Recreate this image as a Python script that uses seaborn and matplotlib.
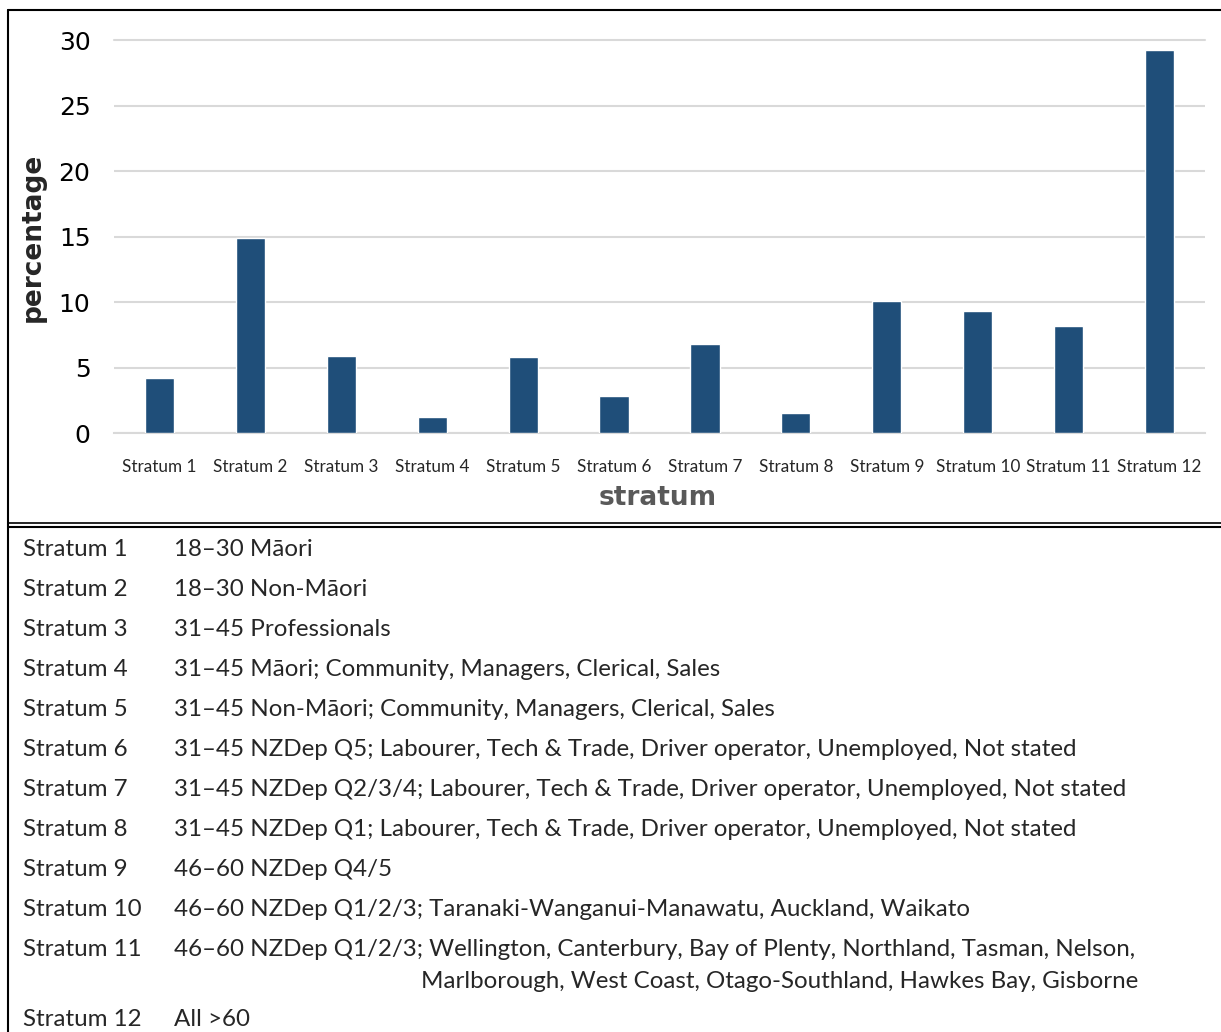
import matplotlib
matplotlib.use("Agg")
import matplotlib.pyplot as plt
import pandas as pd
import seaborn as sns
from matplotlib.lines import Line2D

strata = [f"Stratum {i}" for i in range(1, 13)]
percentage = [4.2, 14.9, 5.9, 1.2, 5.8, 2.8, 6.8, 1.5, 10.1, 9.3, 8.2, 29.2]
descriptions = [
    "18–30 Māori",
    "18–30 Non-Māori",
    "31–45 Professionals",
    "31–45 Māori; Community, Managers, Clerical, Sales",
    "31–45 Non-Māori; Community, Managers, Clerical, Sales",
    "31–45 NZDep Q5; Labourer, Tech & Trade, Driver operator, Unemployed, Not stated",
    "31–45 NZDep Q2/3/4; Labourer, Tech & Trade, Driver operator, Unemployed, Not stated",
    "31–45 NZDep Q1; Labourer, Tech & Trade, Driver operator, Unemployed, Not stated",
    "46–60 NZDep Q4/5",
    "46–60 NZDep Q1/2/3; Taranaki-Wanganui-Manawatu, Auckland, Waikato",
    "46–60 NZDep Q1/2/3; Wellington, Canterbury, Bay of Plenty, Northland, Tasman, Nelson,",
    "All >60",
]
stratum11_cont = "Marlborough, West Coast, Otago-Southland, Hawkes Bay, Gisborne"

W, H = 1221, 1032
sns.set_theme(style="white")
plt.rcParams["font.family"] = ["DejaVu Sans"]
body_font = ["Lato", "Open Sans", "DejaVu Sans"]


def fx(x):
    return x / W


def fy(y):
    return 1 - y / H


fig = plt.figure(figsize=(W / 100, H / 100), dpi=100)
ax = fig.add_axes([fx(114), fy(433), (1205 - 114) / W, (433 - 40) / H])

df = pd.DataFrame({"stratum": strata, "percentage": percentage})
sns.barplot(data=df, x="stratum", y="percentage", color="#1F4E79",
            saturation=1, width=0.32, ax=ax, zorder=3)

ax.set_ylim(0, 30)
ax.set_xlim(-0.5, 11.5)
ax.set_yticks(range(0, 31, 5))
ax.grid(axis="y", color="#D9D9D9", linewidth=1.5, zorder=0)
ax.grid(axis="x", visible=False)
for s in ["top", "right", "left"]:
    ax.spines[s].set_visible(False)
ax.spines["bottom"].set_color("#D9D9D9")
ax.spines["bottom"].set_linewidth(1.5)
ax.tick_params(axis="both", length=0)
ax.tick_params(axis="y", labelsize=18, pad=17, labelcolor="#000000")
ax.tick_params(axis="x", pad=19)
for lbl in ax.get_xticklabels():
    lbl.set_fontfamily(body_font)
    lbl.set_fontsize(12.3)
ax.set_ylabel("percentage", fontsize=19, fontweight="bold")
ax.set_xlabel("stratum", fontsize=19, fontweight="bold", color="#595959")
ax.yaxis.set_label_coords(fx(33), fy(237), transform=fig.transFigure)
ax.xaxis.set_label_coords(fx(658), fy(498), transform=fig.transFigure)
ax.yaxis.label.set_va("center")
ax.xaxis.label.set_va("center")
ax.yaxis.get_gridlines()[-1].set_clip_on(False)

# borders
fig.add_artist(Line2D([fx(8), fx(1221)], [fy(10), fy(10)], color="black", lw=1.5))
fig.add_artist(Line2D([fx(8), fx(8)], [fy(10), fy(1032)], color="black", lw=1.5))
fig.add_artist(Line2D([fx(8), fx(1221)], [fy(523), fy(523)], color="black", lw=1.2))
fig.add_artist(Line2D([fx(8), fx(1221)], [fy(527), fy(527)], color="black", lw=1.5))

# legend table
row_y = [549, 589, 629, 669, 709, 749, 789, 829, 869, 909, 949, 1020]
for name, desc, y in zip(strata, descriptions, row_y):
    fig.text(fx(23), fy(y), name, family=body_font, fontsize=17.4, va="center", ha="left")
    fig.text(fx(174), fy(y), desc, family=body_font, fontsize=17.4, va="center", ha="left")
fig.text(fx(421), fy(982), stratum11_cont, family=body_font, fontsize=17.4, va="center", ha="left")

fig.savefig("out.png", dpi=100)
